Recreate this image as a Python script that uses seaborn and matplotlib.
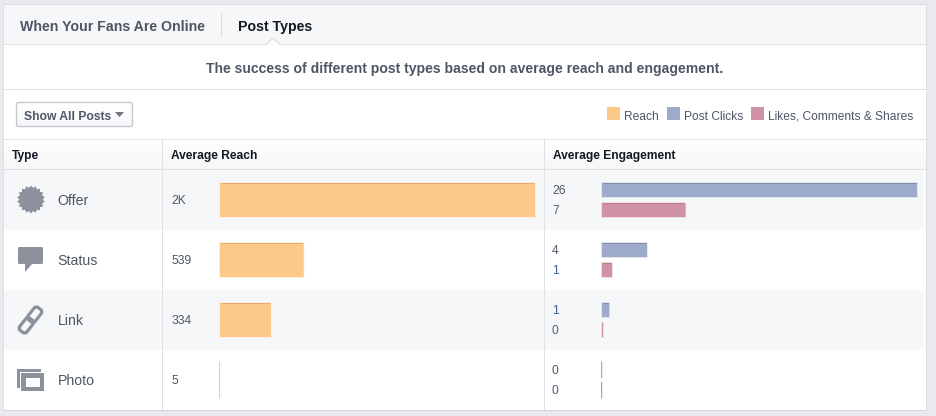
import numpy as np
import pandas as pd
import matplotlib
matplotlib.use("Agg")
import matplotlib.pyplot as plt
import seaborn as sns
from matplotlib.patches import FancyBboxPatch, Rectangle, Polygon
from matplotlib.transforms import Affine2D

types = ["Offer", "Status", "Link", "Photo"]
reach = [2000, 539, 334, 5]
post_clicks = [26, 3.85, 0.75, 0.07]
engaged = [7, 0.98, 0.25, 0.07]
reach_labels = ["2K", "539", "334", "5"]
click_labels = ["26", "4", "1", "0"]
engaged_labels = ["7", "1", "0", "0"]
legend_names = ["Reach", "Post Clicks", "Likes, Comments & Shares"]

C_REACH, C_CLICK, C_LIKE = "#fdc98a", "#9daaca", "#cf92a9"
EDGE = {C_REACH: "#dfae72", C_CLICK: "#7f8cab", C_LIKE: "#b87c92"}
GREY = "#4e5665"
DARK = "#141823"
ICON = "#8b929e"
LINE = "#dfe1e5"
BAND = "#f6f7f8"
FONT = "Liberation Sans"

sns.set_theme(style="white")
plt.rcParams["font.family"] = [FONT, "DejaVu Sans"]

W, H = 936, 416
fig = plt.figure(figsize=(W / 100, H / 100), dpi=100, facecolor="#e9eaed")
bg = fig.add_axes([0, 0, 1, 1], zorder=0)
bg.set_xlim(0, W)
bg.set_ylim(H, 0)
bg.axis("off")


def rect(x0, y0, x1, y1, c, z=1, **kw):
    bg.add_patch(Rectangle((x0, y0), x1 - x0, y1 - y0, fc=c, ec="none", zorder=z, **kw))


def hline(y, x0=4, x1=926, c=LINE):
    rect(x0, y, x1, y + 1, c, z=3)


def txt(x, y, s, size=8.64, color=GREY, weight="normal", ha="left"):
    bg.text(x, y + size * 0.5, s, fontsize=size, color=color, fontweight=weight, ha=ha, va="baseline", zorder=6)


def gradient(x0, y0, x1, y1, top, bottom, z=2):
    a = np.array(matplotlib.colors.to_rgb(top))
    b = np.array(matplotlib.colors.to_rgb(bottom))
    t = np.linspace(0, 1, 32)[:, None, None]
    bg.imshow(a[None, None, :] * (1 - t) + b[None, None, :] * t, extent=(x0, x1, y1, y0),
              aspect="auto", zorder=z, interpolation="bilinear")
    bg.set_xlim(0, W)
    bg.set_ylim(H, 0)


# panel
rect(4, 5, 926, 410, "white", z=0.5)
rect(3, 4, 927, 5, "#d8dade", z=0.6)
rect(3, 410, 927, 411, "#d3d6db", z=0.6)
rect(3, 5, 4, 410, "#dcdee2", z=0.6)
rect(926, 5, 927, 410, "#dcdee2", z=0.6)

# tab band
rect(4, 5, 926, 44, BAND)
hline(44)
rect(221, 13, 222, 37, "#dcdee3", z=3)
bg.add_patch(Polygon([(266, 45), (273, 38), (280, 45)], closed=True, fc="white", ec="none", zorder=4))
bg.plot([266, 273, 280], [44.5, 38, 44.5], color=LINE, lw=1, zorder=4)
txt(20, 25.5, "When Your Fans Are Online", size=10.15, weight="bold")
txt(238, 25.5, "Post Types", size=10.15, color=DARK, weight="bold")
txt(464.5, 68, "The success of different post types based on average reach and engagement.",
    size=10.1, weight="bold", ha="center")
hline(89)

# button
gradient(16, 102, 133, 127, "#ffffff", "#f6f7f8", z=2)
bg.add_patch(FancyBboxPatch((16.5, 102.5), 116, 24, boxstyle="round,pad=0,rounding_size=2",
                            fc="none", ec="#c6c9d0", lw=1, zorder=3))
txt(24.5, 115.5, "Show All Posts", size=8.7, weight="bold")
bg.add_patch(Polygon([(115, 112), (124, 112), (119.5, 117)], closed=True, fc="#6f7582", ec="none", zorder=4))

# legend
for x0, tx, c, name in zip([607, 667, 751], [624, 684, 768.5], [C_REACH, C_CLICK, C_LIKE], legend_names):
    rect(x0, 107, x0 + 13, 120, c, z=3)
    txt(tx, 115.5, name, size=8.64)

# table head
hline(139)
gradient(4, 140, 926, 169, "#ffffff", BAND)
hline(169)
txt(12, 155, "Type", size=8.64, color=DARK, weight="bold")
txt(171, 155, "Average Reach", size=8.64, color=DARK, weight="bold")
txt(553, 155, "Average Engagement", size=8.64, color=DARK, weight="bold")

# rows
for i, name in enumerate(types):
    cy = 200 + 60 * i
    if i % 2 == 0:
        rect(4, cy - 30, 923, cy + 30, BAND)
    txt(57.5, cy, name, size=10.2)
    txt(171, cy, reach_labels[i], size=8.64)
    txt(552, cy - 10, click_labels[i], size=8.64, color="#3f5f94" if click_labels[i] == "1" else GREY)
    txt(552, cy + 10, engaged_labels[i], size=8.64, color="#3f5f94" if engaged_labels[i] == "1" else "#4a5f85")
rect(162, 139, 163, 410, LINE, z=3)
rect(544, 139, 545, 410, LINE, z=3)

# icons
ang = np.linspace(0, 2 * np.pi, 37)[:-1]
rad = np.where(np.arange(36) % 2 == 0, 14, 11.8)
bg.add_patch(Polygon(np.c_[31 + rad * np.sin(ang), 199.5 + rad * np.cos(ang)], closed=True, fc=ICON, ec="none", zorder=4))
bg.add_patch(FancyBboxPatch((18, 247), 25, 17, boxstyle="round,pad=0,rounding_size=1.5", fc=ICON, ec="none", zorder=4))
bg.add_patch(Polygon([(25, 263), (33, 263), (25, 272)], closed=True, fc=ICON, ec="none", zorder=4))
rot = Affine2D().rotate_deg_around(30.5, 320, 38) + bg.transData
for yy in (305.5, 319):
    bg.add_patch(FancyBboxPatch((26, yy), 9, 15.5, boxstyle="round,pad=0,rounding_size=3", fc="none",
                                ec=ICON, lw=2.3, zorder=4, transform=rot))
rect(17, 369, 41, 371.5, ICON, z=4)
rect(17, 369, 19.5, 388, ICON, z=4)
rect(21, 373, 44, 391, ICON, z=5)
rect(26, 378, 40, 387, "white", z=5.5)


def bar_axes(x0, x1, xmax):
    ax = fig.add_axes([x0 / W, 1 - 410 / H, (x1 - x0) / W, 240 / H], zorder=2)
    ax.patch.set_alpha(0)
    return ax, xmax


def finish(ax, xmax):
    ax.set_xlim(0, xmax)
    ax.set_ylim(3.5, -0.5)
    ax.axis("off")
    fig.canvas.draw()
    to_px = bg.transData.inverted()
    for bar in ax.patches:
        if bar.get_width() <= 0:
            continue
        (px0, py0), (px1, py1) = to_px.transform(bar.get_window_extent().get_points())
        px0, px1 = min(px0, px1), max(px0, px1)
        py0, py1 = min(py0, py1), max(py0, py1)
        c = matplotlib.colors.to_hex(bar.get_facecolor())
        bar.set_snap(False)
        if px1 - px0 < 2:
            # hairline bars: keep them visible at one pixel
            bar.set_edgecolor(c)
            bar.set_linewidth(0.5)
            continue
        r = min(2.2, (px1 - px0) / 2, (py1 - py0) / 2)
        clip = FancyBboxPatch((px0, py0), px1 - px0, py1 - py0,
                              boxstyle=f"round,pad=0,rounding_size={r}", transform=bg.transData)
        bar.set_clip_path(clip)
        if px1 - px0 > 6:
            ax.plot([px0 + r, px1 - r], [py0 + 0.5, py0 + 0.5], color=EDGE.get(c, c), lw=0.7, zorder=5,
                    solid_capstyle="butt", transform=bg.transData, clip_on=False)


# reach bars
df_reach = pd.DataFrame({"type": types, "reach": reach})
ax_r, xm_r = bar_axes(219, 536, max(reach))
sns.barplot(data=df_reach, y="type", x="reach", color=C_REACH, saturation=1, width=0.6, ax=ax_r, legend=False)
finish(ax_r, xm_r)

# engagement bars
df_eng = pd.DataFrame({
    "type": types * 2,
    "value": post_clicks + engaged,
    "metric": [legend_names[1]] * 4 + [legend_names[2]] * 4,
})
ax_e, xm_e = bar_axes(601, 918, max(post_clicks))
sns.barplot(data=df_eng, y="type", x="value", hue="metric", palette=[C_CLICK, C_LIKE], saturation=1,
            width=2 / 3, gap=0.2, ax=ax_e, legend=False)
finish(ax_e, xm_e)

fig.savefig("out.png", dpi=100, facecolor=fig.get_facecolor())
